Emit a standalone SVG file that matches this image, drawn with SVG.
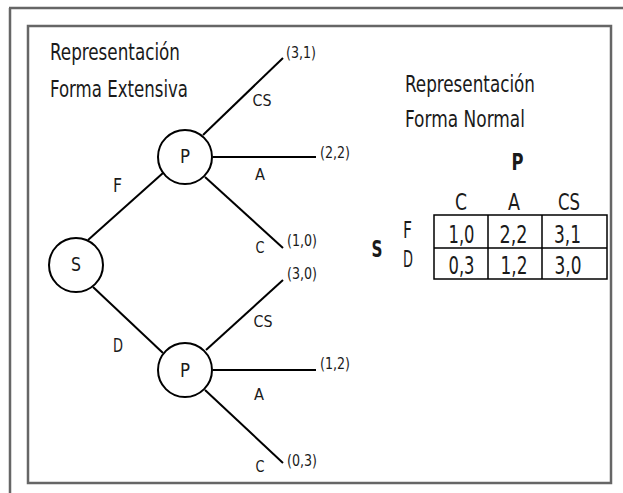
<svg xmlns="http://www.w3.org/2000/svg" width="623" height="493" viewBox="0 0 623 493">
<style>
text{font-family:"DejaVu Sans Condensed","Liberation Sans",sans-serif;font-stretch:condensed;fill:#1a1a1a}
.frame{fill:none;stroke:#666;stroke-width:2.5}
.edge{stroke:#000;stroke-width:2;fill:none}
.node{fill:#fff;stroke:#000;stroke-width:2}
.title{font-size:23.5px}
.nl{font-size:20px;text-anchor:middle}
.lab{font-size:16.5px;text-anchor:middle}
.pay{font-size:15px}
.cell{font-size:24.5px;text-anchor:middle}
.hd{font-size:23.5px;text-anchor:middle}
.grid{fill:none;stroke:#000;stroke-width:1.5}
</style>
<g id="frames">
<path class="frame" d="M9,8 H623 M10,8 V493"/>
<rect class="frame" x="28" y="26" width="583" height="457"/>
</g>
<text class="title" x="50" y="60" textLength="130" lengthAdjust="spacingAndGlyphs">Representación</text>
<text class="title" x="50" y="97" textLength="138" lengthAdjust="spacingAndGlyphs">Forma Extensiva</text>
<g id="connectors">
<line class="edge" x1="88" y1="240" x2="163" y2="173"/>
<line class="edge" x1="93" y1="287" x2="163" y2="353"/>
<line class="edge" x1="203" y1="135" x2="283" y2="58"/>
<line class="edge" x1="213" y1="157" x2="316" y2="157"/>
<line class="edge" x1="205" y1="177" x2="283" y2="248"/>
<line class="edge" x1="206" y1="350" x2="283" y2="280"/>
<line class="edge" x1="213" y1="370" x2="316" y2="370"/>
<line class="edge" x1="205" y1="390" x2="283" y2="463"/>
<text class="nl" x="117.5" y="192" textLength="9" lengthAdjust="spacingAndGlyphs">F</text>
<text class="nl" x="118" y="352" textLength="10" lengthAdjust="spacingAndGlyphs">D</text>
<text class="lab" x="262" y="106" textLength="19" lengthAdjust="spacingAndGlyphs">CS</text>
<text class="lab" x="260" y="180" textLength="10" lengthAdjust="spacingAndGlyphs">A</text>
<text class="lab" x="260" y="253" textLength="9" lengthAdjust="spacingAndGlyphs">C</text>
<text class="lab" x="263" y="327" textLength="19" lengthAdjust="spacingAndGlyphs">CS</text>
<text class="lab" x="259" y="400" textLength="10" lengthAdjust="spacingAndGlyphs">A</text>
<text class="lab" x="260" y="472" textLength="9" lengthAdjust="spacingAndGlyphs">C</text>
<text class="pay" x="286" y="58" textLength="30" lengthAdjust="spacingAndGlyphs">(3,1)</text>
<text class="pay" x="320" y="158" textLength="30" lengthAdjust="spacingAndGlyphs">(2,2)</text>
<text class="pay" x="287" y="246" textLength="30" lengthAdjust="spacingAndGlyphs">(1,0)</text>
<text class="pay" x="287" y="279" textLength="30" lengthAdjust="spacingAndGlyphs">(3,0)</text>
<text class="pay" x="320" y="369" textLength="30" lengthAdjust="spacingAndGlyphs">(1,2)</text>
<text class="pay" x="287" y="466" textLength="30" lengthAdjust="spacingAndGlyphs">(0,3)</text>
</g>
<g id="node-S">
<circle class="node" cx="76" cy="265" r="27"/>
<text class="nl" x="76" y="271" textLength="10" lengthAdjust="spacingAndGlyphs">S</text>
</g>
<g id="node-P1">
<circle class="node" cx="185" cy="157" r="27"/>
<text class="nl" x="185" y="163" textLength="10" lengthAdjust="spacingAndGlyphs">P</text>
</g>
<g id="node-P2">
<circle class="node" cx="185" cy="370" r="27"/>
<text class="nl" x="185" y="377" textLength="10" lengthAdjust="spacingAndGlyphs">P</text>
</g>
<g id="normal-form">
<text class="title" x="405" y="92" textLength="130" lengthAdjust="spacingAndGlyphs">Representación</text>
<text class="title" x="405" y="127" textLength="120" lengthAdjust="spacingAndGlyphs">Forma Normal</text>
<text class="hd" x="517.5" y="170" font-weight="bold" textLength="12" lengthAdjust="spacingAndGlyphs">P</text>
<text class="hd" x="377" y="257" font-weight="bold" textLength="11" lengthAdjust="spacingAndGlyphs">S</text>
<text class="hd" x="461" y="210" textLength="12" lengthAdjust="spacingAndGlyphs">C</text>
<text class="hd" x="514" y="210" textLength="12" lengthAdjust="spacingAndGlyphs">A</text>
<text class="hd" x="569" y="210" textLength="22" lengthAdjust="spacingAndGlyphs">CS</text>
<text class="hd" x="407.5" y="238" textLength="9" lengthAdjust="spacingAndGlyphs">F</text>
<text class="hd" x="408" y="267" textLength="10" lengthAdjust="spacingAndGlyphs">D</text>
<rect class="grid" x="434" y="215" width="173" height="64"/>
<path class="grid" d="M434,248 H607 M488,215 V279 M542,215 V279"/>
<text class="cell" x="461.5" y="243" textLength="26" lengthAdjust="spacingAndGlyphs">1,0</text>
<text class="cell" x="513.5" y="243" textLength="28" lengthAdjust="spacingAndGlyphs">2,2</text>
<text class="cell" x="567.5" y="243" textLength="27" lengthAdjust="spacingAndGlyphs">3,1</text>
<text class="cell" x="461.5" y="274" textLength="26" lengthAdjust="spacingAndGlyphs">0,3</text>
<text class="cell" x="514" y="274" textLength="27" lengthAdjust="spacingAndGlyphs">1,2</text>
<text class="cell" x="568" y="274" textLength="27" lengthAdjust="spacingAndGlyphs">3,0</text>
</g>
</svg>
